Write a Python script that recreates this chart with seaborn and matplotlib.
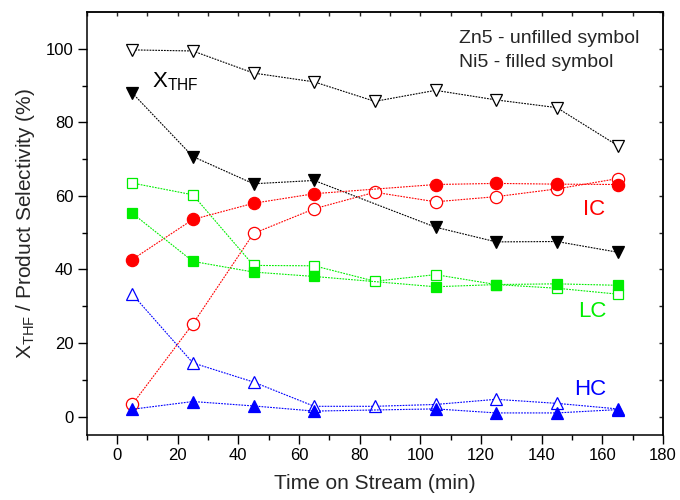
import numpy as np
import pandas as pd
import matplotlib
matplotlib.use("Agg")
import matplotlib.pyplot as plt
import seaborn as sns

# ---- data ----
time_zn = [5, 25, 45, 65, 85, 105, 125, 145, 165]
time_ni = [5, 25, 45, 65, 105, 125, 145, 165]

xthf_zn = [99.7, 99.4, 93.4, 91.0, 85.7, 88.7, 86.1, 84.0, 73.7]
xthf_ni = [88.0, 70.7, 63.3, 64.2, 51.5, 47.5, 47.6, 44.7]

ic_zn = [3.3, 25.2, 49.8, 56.5, 61.0, 58.4, 59.8, 61.9, 64.7]
ic_ni = [42.7, 53.6, 58.0, 60.6, 63.1, 63.4, 63.2, 63.1]

lc_zn = [63.5, 60.3, 41.1, 41.0, 36.8, 38.6, 35.9, 34.9, 33.3]
lc_ni = [55.3, 42.2, 39.3, 38.1, 35.3, 35.9, 36.1, 35.7]

hc_zn = [33.3, 14.6, 9.4, 2.8, 2.8, 3.3, 4.7, 3.6, 2.1]
hc_ni = [2.0, 4.1, 2.9, 1.5, 2.1, 1.0, 1.0, 1.9]

xticks = [0, 20, 40, 60, 80, 100, 120, 140, 160, 180]
yticks = [0, 20, 40, 60, 80, 100]

sns.set_theme(style="ticks")
plt.rcParams['font.family'] = ['Liberation Sans', 'DejaVu Sans']
plt.rcParams['mathtext.fontset'] = 'custom'
plt.rcParams['mathtext.rm'] = 'Liberation Sans'
plt.rcParams['mathtext.it'] = 'Liberation Sans'
plt.rcParams['mathtext.bf'] = 'Liberation Sans'

BLACK = '#000000'
RED = '#ff0000'
GREEN = '#00ee00'
BLUE = '#0000ff'

fig = plt.figure(figsize=(6.8, 5), dpi=100)
ax = fig.add_axes([0.1275, 0.13, 0.8475, 0.846])

ls = (0, (1.6, 1.0))
lw = 0.8

series = [
    # (x, y, color, marker, size, filled)
    (time_zn, xthf_zn, BLACK, 'v', 9.3, False),
    (time_zn, ic_zn, RED, 'o', 8.8, False),
    (time_zn, lc_zn, GREEN, 's', 7.3, False),
    (time_zn, hc_zn, BLUE, '^', 9.3, False),
    (time_ni, xthf_ni, BLACK, 'v', 9.3, True),
    (time_ni, ic_ni, RED, 'o', 8.8, True),
    (time_ni, lc_ni, GREEN, 's', 7.3, True),
    (time_ni, hc_ni, BLUE, '^', 9.3, True),
]

for i, (xs, ys, col, mk, ms, filled) in enumerate(series):
    df = pd.DataFrame({'t': xs, 'v': ys})
    sns.lineplot(data=df, x='t', y='v', ax=ax, color=col, marker=mk,
                 markersize=ms, markeredgecolor=col,
                 markerfacecolor=col if filled else 'white',
                 markeredgewidth=0.9, linestyle=ls, linewidth=lw,
                 zorder=3 + i)

ax.set_xlim(-10, 180)
ax.set_ylim(-5, 110)
ax.set_xticks(xticks)
ax.set_xticks(np.arange(-10, 180, 20), minor=True)
ax.set_yticks(yticks)
ax.set_yticks(np.arange(10, 110, 20), minor=True)
ax.tick_params(axis='both', which='major', direction='out', length=6.5,
               width=1.0, labelsize=12, colors='black', pad=3)
ax.tick_params(axis='both', which='minor', direction='out', length=3.5,
               width=1.0, colors='black')
for s in ax.spines.values():
    s.set_linewidth(1.1)
    s.set_color('black')

top = ax.secondary_xaxis('top')
top.set_xticks(np.arange(-10, 181, 10))
top.tick_params(direction='in', length=3, width=1.0, labeltop=False)
top.spines['top'].set_linewidth(1.1)
right = ax.secondary_yaxis('right')
right.set_yticks(np.arange(0, 111, 10))
right.tick_params(direction='in', length=3, width=1.0, labelright=False)
right.spines['right'].set_linewidth(1.1)

ax.set_xlabel('Time on Stream (min)', fontsize=15, labelpad=8)
ax.set_ylabel(r'X$_{\mathrm{THF}}$ / Product Selectivity (%)', fontsize=15,
              labelpad=6)

ax.text(11.5, 89.4, r'X$_{\mathrm{THF}}$', fontsize=16, ha='left',
        va='baseline', color='black')
ax.text(112.8, 101.6, 'Zn5 - unfilled symbol', fontsize=14, ha='left',
        va='baseline')
ax.text(112.8, 95.0, 'Ni5 - filled symbol', fontsize=14, ha='left',
        va='baseline')
ax.text(153.6, 54.9, 'IC', fontsize=16, color=RED, ha='left', va='baseline')
ax.text(152.0, 27.0, 'LC', fontsize=16, color=GREEN, ha='left', va='baseline')
ax.text(150.8, 5.8, 'HC', fontsize=16, color=BLUE, ha='left', va='baseline')

fig.savefig('out.png', dpi=100)
